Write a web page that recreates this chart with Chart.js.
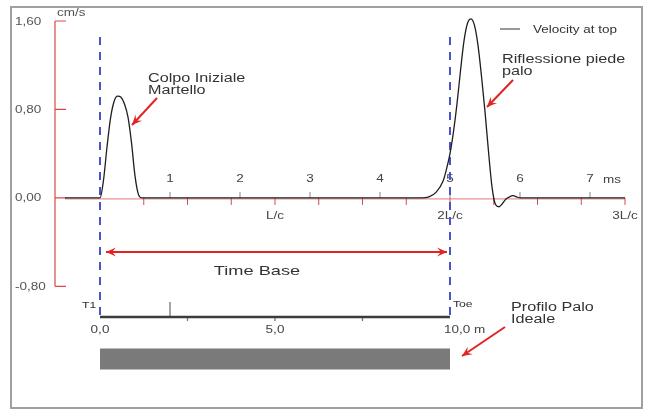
<!DOCTYPE html>
<html>
<head>
<meta charset="utf-8">
<script src="https://cdn.jsdelivr.net/npm/chart.js@4.4.1/dist/chart.umd.min.js"></script>
<style>
  html, body { margin: 0; padding: 0; background: #fff; }
  #wrap { width: 646px; height: 412px; }
</style>
</head>
<body>
<div id="wrap"><canvas id="pit" width="646" height="412"></canvas></div>
<script>
// Velocity at top (cm/s) against time (ms)
const timeMs = [-0.5, 0, 0.05, 0.1, 0.15, 0.2, 0.25, 0.3, 0.35, 0.4, 0.45, 0.5, 0.55, 0.6,
  4.6, 4.7, 4.8, 4.9, 4.95, 5.0, 5.05, 5.1, 5.15, 5.2, 5.25, 5.3, 5.35, 5.4, 5.45, 5.5,
  5.55, 5.6, 5.65, 5.7, 5.75, 5.8, 5.85, 5.9, 5.95, 6.0, 7.5];
const velocity = [0, 0, 0.16, 0.46, 0.72, 0.87, 0.92, 0.91, 0.85, 0.73, 0.5, 0.2, 0.03, 0,
  0, 0.01, 0.05, 0.15, 0.26, 0.4, 0.6, 0.85, 1.15, 1.42, 1.58, 1.62, 1.56, 1.38, 1.1, 0.78,
  0.42, 0.1, -0.06, -0.08, -0.05, -0.01, 0.01, 0.02, 0.01, 0, 0];

// Velocity axis
const yTicks = [1.6, 0.8, 0, -0.8];
const yTickLabels = ["1,60", "0,80", "0,00", "-0,80"];

// Time axis (ms) and L/c axis
const msTicks = [1, 2, 3, 4, 5, 6, 7];
const lcTicks = [0.625, 1.25, 1.875, 2.5, 3.125, 3.75, 4.375, 5, 5.625, 6.25, 6.875, 7.5];
const lcLabelTimes = [2.5, 5, 7.5];
const lcLabelTexts = ["L/c", "2L/c", "3L/c"];

// Markers T1 / Toe (ms)
const markerTimes = [0, 5];
const markerNames = ["T1", "Toe"];

// Pile depth (m)
const pileDepth = [0, 10];
const depthLabelValues = [0, 5, 10];
const depthLabelTexts = ["0,0", "5,0", "10,0 m"];
const depthTickUp = [2];
const depthTickDown = [2.5, 5, 7.5];

// layout levels on the velocity scale (below the plot)
const DEPTH_AXIS_V = -1.077;
const PILE_BAR_V = -1.457;

const FONT = "'Liberation Sans', Arial, sans-serif";
const SX = 1.35; // the original print is stretched horizontally

function txt(ctx, s, x, y, size, align, color) {
  ctx.save();
  ctx.font = size + "px " + FONT;
  ctx.fillStyle = color || "#333";
  ctx.textAlign = "left";
  ctx.textBaseline = "alphabetic";
  const w = ctx.measureText(s).width * SX;
  const x0 = align === "center" ? x - w / 2 : align === "right" ? x - w : x;
  ctx.translate(x0, y);
  ctx.scale(SX, 1);
  ctx.fillText(s, 0, 0);
  ctx.restore();
}

function arrow(ctx, x1, y1, x2, y2, both) {
  const ang = Math.atan2(y2 - y1, x2 - x1);
  const hl = 10, hw = 4.5;
  ctx.save();
  ctx.strokeStyle = "#e02424";
  ctx.fillStyle = "#e02424";
  ctx.lineWidth = 2;
  ctx.beginPath();
  ctx.moveTo(x1, y1);
  ctx.lineTo(x2, y2);
  ctx.stroke();
  function head(x, y, a) {
    ctx.beginPath();
    ctx.moveTo(x, y);
    ctx.lineTo(x - hl * Math.cos(a) + hw * Math.sin(a), y - hl * Math.sin(a) - hw * Math.cos(a));
    ctx.lineTo(x - hl * Math.cos(a) * 0.6, y - hl * Math.sin(a) * 0.6);
    ctx.lineTo(x - hl * Math.cos(a) - hw * Math.sin(a), y - hl * Math.sin(a) + hw * Math.cos(a));
    ctx.closePath();
    ctx.fill();
  }
  head(x2, y2, ang);
  if (both) head(x1, y1, ang + Math.PI);
  ctx.restore();
}

const pitPlugin = {
  id: "pit",
  beforeDatasetsDraw(chart) {
    const ctx = chart.ctx;
    const xs = chart.scales.x, ys = chart.scales.y, xd = chart.scales.xd;
    const px = (t) => xs.getPixelForValue(t);
    const py = (v) => ys.getPixelForValue(v);
    ctx.save();

    // outer frame
    ctx.strokeStyle = "#a0a0a0";
    ctx.lineWidth = 2;
    ctx.strokeRect(11, 7, 631, 401);

    // velocity axis (red)
    ctx.strokeStyle = "#d94848";
    ctx.lineWidth = 1.2;
    const ax = 55;
    ctx.beginPath();
    ctx.moveTo(ax, py(yTicks[0]));
    ctx.lineTo(ax, py(yTicks[yTicks.length - 1]));
    yTicks.forEach((v) => {
      ctx.moveTo(ax, py(v));
      ctx.lineTo(ax + 11, py(v));
    });
    ctx.stroke();
    yTicks.forEach((v, i) => txt(ctx, yTickLabels[i], 15, py(v) + 3.5, 10, "left", "#555"));
    txt(ctx, "cm/s", 57, 16, 10, "left", "#555");

    // time axis line
    ctx.strokeStyle = "#e07a7a";
    ctx.lineWidth = 1;
    ctx.beginPath();
    ctx.moveTo(px(-0.5), py(0) + 1);
    ctx.lineTo(px(7.5), py(0) + 1);
    ctx.stroke();

    // ms ticks above
    ctx.strokeStyle = "#888";
    ctx.lineWidth = 1;
    ctx.beginPath();
    msTicks.forEach((t) => {
      ctx.moveTo(px(t), py(0));
      ctx.lineTo(px(t), py(0) - 6);
    });
    ctx.stroke();
    msTicks.forEach((t) => txt(ctx, String(t), px(t), py(0) - 15.5, 10, "center", "#444"));
    txt(ctx, "ms", px(7) + 13, py(0) - 15, 10, "left", "#444");

    // L/c ticks below (red)
    ctx.strokeStyle = "#d94848";
    ctx.beginPath();
    lcTicks.forEach((t) => {
      ctx.moveTo(px(t), py(0));
      ctx.lineTo(px(t), py(0) + 7);
    });
    ctx.stroke();
    lcLabelTimes.forEach((t, i) => txt(ctx, lcLabelTexts[i], px(t), py(0) + 21, 10, "center", "#444"));

    // blue dashed markers
    ctx.strokeStyle = "#4a54c8";
    ctx.lineWidth = 2;
    ctx.setLineDash([8, 7]);
    markerTimes.forEach((t) => {
      ctx.beginPath();
      ctx.moveTo(px(t), 37);
      ctx.lineTo(px(t), py(DEPTH_AXIS_V));
      ctx.stroke();
    });
    ctx.setLineDash([]);

    // depth axis ticks
    const dy = py(DEPTH_AXIS_V);
    ctx.strokeStyle = "#777";
    ctx.lineWidth = 1.3;
    ctx.beginPath();
    depthTickUp.forEach((d) => {
      ctx.moveTo(xd.getPixelForValue(d), dy);
      ctx.lineTo(xd.getPixelForValue(d), dy - 15);
    });
    depthTickDown.forEach((d) => {
      ctx.moveTo(xd.getPixelForValue(d), dy);
      ctx.lineTo(xd.getPixelForValue(d), dy + 4);
    });
    ctx.stroke();
    depthLabelValues.forEach((d, i) => {
      const last = i === depthLabelValues.length - 1;
      const x = xd.getPixelForValue(d) - (last ? 6 : 0);
      txt(ctx, depthLabelTexts[i], x, dy + 16, 10, last ? "left" : "center", "#444");
    });
    ctx.restore();
  },
  afterDatasetsDraw(chart) {
    const ctx = chart.ctx;
    const xs = chart.scales.x, ys = chart.scales.y;
    const px = (t) => xs.getPixelForValue(t);
    const py = (v) => ys.getPixelForValue(v);
    ctx.save();

    // legend
    ctx.strokeStyle = "#333";
    ctx.lineWidth = 1;
    ctx.beginPath();
    ctx.moveTo(500, 29);
    ctx.lineTo(520, 29);
    ctx.stroke();
    txt(ctx, "Velocity at top", 533, 33, 10, "left", "#333");

    // T1 / Toe
    txt(ctx, markerNames[0], 82, py(DEPTH_AXIS_V) - 9, 9, "left", "#333");
    txt(ctx, markerNames[1], px(markerTimes[1]) + 3, py(DEPTH_AXIS_V) - 10, 9, "left", "#333");

    // annotations
    txt(ctx, "Colpo Iniziale", 148, 82, 12);
    txt(ctx, "Martello", 148, 94, 12);
    arrow(ctx, 157, 98, 132, 125);

    txt(ctx, "Riflessione piede", 502, 63, 12);
    txt(ctx, "palo", 502, 75, 12);
    arrow(ctx, 513, 80, 487, 107);

    txt(ctx, "Time Base", 257, 275, 13.5, "center");
    arrow(ctx, px(markerTimes[0]) + 6, 252, px(markerTimes[1]) - 3, 252, true);

    txt(ctx, "Profilo Palo", 511, 311, 12);
    txt(ctx, "Ideale", 511, 323, 12);
    arrow(ctx, 505, 327, 462, 356);
    ctx.restore();
  }
};

new Chart(document.getElementById("pit"), {
  type: "line",
  data: {
    datasets: [
      {
        label: "Velocity at top",
        data: timeMs.map((t, i) => ({ x: t, y: velocity[i] })),
        borderColor: "#1e1e1e",
        borderWidth: 1.3,
        pointRadius: 0,
        cubicInterpolationMode: "monotone",
        clip: false,
        fill: false
      },
      {
        label: "depth axis",
        xAxisID: "xd",
        data: pileDepth.map((d) => ({ x: d, y: DEPTH_AXIS_V })),
        borderColor: "#3c3c3c",
        borderWidth: 2.5,
        pointRadius: 0
      },
      {
        label: "Profilo Palo Ideale",
        xAxisID: "xd",
        data: pileDepth.map((d) => ({ x: d, y: PILE_BAR_V })),
        borderColor: "#7a7a7a",
        borderWidth: 21,
        borderCapStyle: "butt",
        pointRadius: 0
      }
    ]
  },
  options: {
    responsive: false,
    animation: false,
    layout: { padding: { left: 30, right: 0, top: 21, bottom: 4 } },
    plugins: { legend: { display: false }, tooltip: { enabled: false } },
    scales: {
      x: { type: "linear", min: -1, max: 7.8, display: false },
      xd: { type: "linear", min: -2, max: 15.6, display: false },
      y: { type: "linear", min: -1.9, max: 1.6, display: false }
    }
  },
  plugins: [pitPlugin]
});
</script>
</body>
</html>
